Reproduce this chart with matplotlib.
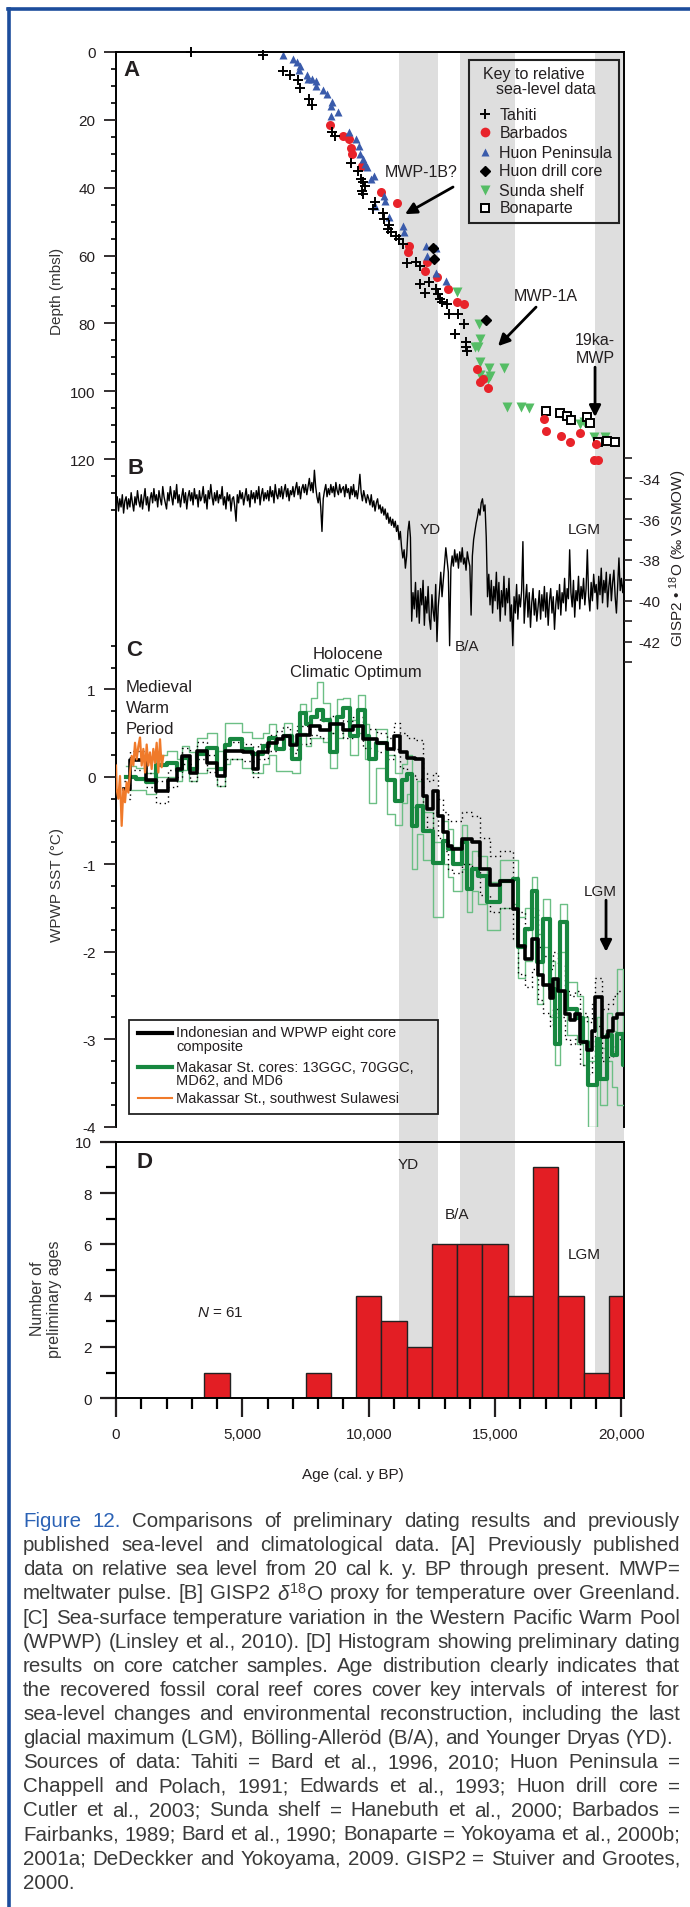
import numpy as np
import matplotlib
matplotlib.use('Agg')
import matplotlib.pyplot as plt
from matplotlib import font_manager
from matplotlib.lines import Line2D
from matplotlib.patches import Rectangle
from matplotlib.ticker import MultipleLocator, FuncFormatter

# ---------------- data ----------------
AGE_MAX = 20100
# shaded intervals (YD, B/A, LGM), cal. y BP
bands = [(11190, 12725), (13600, 15775), (18950, 20100)]

# [A] relative sea level, age (cal y BP) vs depth (mbsl)
tahiti_age = [2984, 5822, 6605, 6902, 7215, 7286, 7650, 7737, 8556, 8679, 9288, 9565, 9688, 9775, 9862,
              9724, 9775, 10261, 10175, 10558, 10594, 10784, 10768, 10871, 11080, 11203, 11341, 11515, 11863, 12037,
              12037, 12211, 12385, 12646, 12733, 12821, 12908, 13082, 13169, 13517, 13778, 13430, 13830, 13865, 13901]
tahiti_depth = [0.0, 0.9, 5.5, 6.8, 8.2, 10.7, 13.9, 15.6, 23.7, 24.7, 32.7, 35.0, 37.4, 38.2, 39.4,
                40.9, 41.9, 44.1, 46.3, 47.6, 49.2, 51.0, 52.2, 53.2, 54.2, 55.1, 56.6, 62.3, 62.0, 63.0,
                68.4, 70.9, 67.9, 69.9, 71.4, 72.8, 73.8, 74.3, 77.2, 77.2, 80.2, 83.1, 85.6, 87.1, 88.1]
barb_age = [8468, 8990, 9200, 9288, 9338, 9723, 10470, 11132, 11602, 11567, 12298, 12211, 12699, 13134,
            13482, 13778, 14300, 14388, 14527, 14736, 16948, 17016, 17609, 17957, 18341, 19002, 18915, 19054]
barb_depth = [21.5, 24.7, 25.7, 28.3, 30.1, 33.5, 41.4, 44.5, 57.1, 58.9, 62.0, 64.5, 66.4, 69.9,
              73.6, 74.3, 93.5, 97.4, 96.4, 98.9, 108.2, 111.6, 113.1, 115.1, 112.3, 115.6, 120.2, 120.4]
huon_age = [6605, 6989, 7163, 7286, 7251, 7547, 7600, 7737, 7911, 7911, 8172, 8330, 8556, 8504, 8765, 8504,
            9218, 9513, 9600, 9652, 9775, 9862, 9913, 10209, 10087, 10610, 10644, 10244, 10783, 11341, 11376,
            12263, 12681, 12298, 12646, 13047]
huon_depth = [0.9, 2.1, 3.0, 4.0, 5.3, 6.8, 8.0, 8.0, 8.5, 9.9, 11.1, 12.4, 14.6, 15.8, 17.8, 18.8,
              23.7, 25.5, 27.6, 30.1, 31.5, 33.0, 34.0, 36.5, 37.4, 42.4, 43.8, 45.3, 48.7, 51.2, 53.0,
              57.3, 57.8, 60.0, 65.2, 67.4]
drill_age = [12524, 12595, 14648]
drill_depth = [57.9, 61.0, 79.0]
sunda_age = [13482, 14352, 14388, 14213, 14336, 14422, 14771, 15345, 14388, 14787, 14736, 15467, 16006,
             16354, 18356, 18513, 18915, 19349]
sunda_depth = [70.7, 80.2, 84.6, 87.1, 87.1, 91.5, 93.0, 93.0, 95.2, 95.4, 96.4, 104.5, 104.5,
               104.8, 109.7, 109.2, 113.6, 113.6]
bon_age = [17033, 17556, 17834, 17991, 18617, 18774, 19088, 19436, 19732]
bon_depth = [105.9, 106.5, 107.4, 108.4, 107.5, 109.4, 114.9, 114.8, 114.9]

# [B] GISP2 d18O, one value per 50 yr from 0 to 20100 (rows of 500 yr)
gisp_step = 50
gisp_d18o = [
    -35.3, -34.9, -35.6, -35.0, -35.4, -34.8, -35.7, -35.1, -34.9, -35.5,
    -35.0, -35.4, -34.7, -35.2, -35.6, -34.9, -35.3, -34.6, -35.1, -35.4,
    -34.8, -35.5, -35.0, -34.5, -35.3, -34.9, -35.6, -35.0, -34.7, -35.2,
    -34.5, -35.1, -34.8, -35.4, -34.6, -35.0, -35.3, -34.4, -34.9, -35.2,
    -35.5, -34.7, -35.1, -34.4, -34.9, -35.3, -34.6, -35.0, -34.3, -35.2,
    -34.8, -35.4, -34.9, -34.5, -35.2, -34.7, -35.5, -34.9, -34.6, -35.1,
    -34.7, -35.3, -34.5, -35.0, -34.8, -35.4, -34.6, -35.1, -34.9, -34.4,
    -35.2, -34.8, -35.5, -34.6, -35.0, -34.3, -34.9, -35.3, -34.7, -35.1,
    -34.6, -35.2, -34.8, -35.0, -34.4, -35.3, -34.9, -35.5, -34.7, -35.1,
    -34.8, -35.6, -35.0, -34.9, -35.4, -36.1, -34.8, -35.2, -34.6, -35.0,
    -34.7, -35.3, -34.9, -34.5, -35.1, -34.8, -35.4, -34.6, -35.0, -34.7,
    -35.2, -34.6, -35.0, -34.4, -35.3, -34.8, -34.5, -35.1, -34.7, -35.0,
    -34.6, -35.1, -34.4, -34.9, -34.6, -35.2, -34.3, -34.8, -35.0, -34.5,
    -34.9, -34.4, -35.0, -34.6, -34.3, -34.9, -34.5, -35.1, -34.6, -34.8,
    -34.4, -34.9, -34.5, -34.2, -34.8, -34.4, -35.0, -34.5, -34.3, -34.7,
    -34.3, -34.8, -34.4, -34.0, -34.6, -34.2, -34.7, -33.6, -34.4, -34.9,
    -35.2, -34.7, -35.4, -36.6, -35.0, -34.6, -34.3, -34.9, -34.5, -34.8,
    -34.3, -34.7, -34.4, -34.9, -34.2, -34.6, -34.8, -34.3, -34.7, -34.5,
    -34.4, -34.9, -34.3, -34.7, -34.5, -35.0, -34.4, -34.8, -34.3, -34.9,
    -34.6, -35.0, -34.5, -33.8, -34.7, -35.1, -34.6, -34.9, -35.2, -34.8,
    -35.0, -35.3, -34.8, -35.4, -35.1, -35.6, -35.2, -35.0, -35.5, -35.3,
    -35.7, -35.4, -35.8, -35.5, -36.0, -35.7, -36.2, -35.9, -36.3, -36.0,
    -36.4, -36.1, -36.6, -36.3, -37.0, -36.6, -37.4, -37.9, -37.5, -38.4,
    -37.8, -36.6, -36.1, -36.9, -41.0, -39.6, -40.4, -39.1, -40.8, -39.5,
    -41.1, -39.4, -40.2, -39.0, -41.2, -39.8, -40.6, -39.3, -40.9, -41.4,
    -39.7, -40.5, -41.0, -39.2, -42.0, -40.3, -39.5, -38.6, -39.8, -39.0,
    -38.2, -37.4, -38.0, -38.6, -42.2, -38.4, -37.8, -38.3, -37.5, -38.1,
    -37.7, -38.4, -37.6, -38.1, -37.4, -38.2, -37.9, -38.5, -37.6, -38.0,
    -38.3, -40.7, -37.8, -37.0, -36.6, -36.2, -35.9, -35.5, -35.8, -35.2,
    -35.0, -35.6, -35.3, -36.9, -39.8, -38.7, -40.2, -39.0, -40.6, -39.3,
    -40.0, -38.6, -40.4, -39.1, -41.0, -39.5, -40.3, -38.8, -40.7, -39.4,
    -40.1, -38.9, -41.0, -40.2, -42.2, -39.8, -40.6, -39.2, -40.9, -39.7,
    -40.3, -39.5, -37.1, -41.1, -40.0, -39.2, -40.8, -39.6, -41.3, -40.1,
    -39.4, -40.7, -39.9, -41.0, -40.3, -39.5, -40.9, -39.7, -40.5, -39.3,
    -40.8, -39.6, -41.2, -40.0, -39.4, -40.6, -39.8, -41.4, -40.2, -39.5,
    -40.4, -39.2, -40.7, -39.6, -40.1, -38.9, -40.5, -39.4, -39.9, -37.5,
    -39.6, -40.3, -39.0, -40.8, -39.5, -40.0, -38.8, -40.4, -39.3, -39.9,
    -38.9, -40.2, -39.4, -37.5, -39.8, -40.5, -39.1, -40.0, -38.7, -39.6,
    -39.2, -40.4, -38.8, -39.7, -38.4, -40.1, -39.0, -39.6, -38.6, -40.3,
    -39.3, -38.7, -40.0, -39.1, -38.5, -39.8, -40.6, -39.2, -37.9, -39.5,
    -38.9, -39.6, -39.0]

# [C] WPWP SST anomaly (deg C)
# Makassar Strait cores: step ages, thick mean and thin envelope
mk_age = [400, 800, 1200, 1600, 2000, 2400, 2600, 2900, 3200, 3600,
          4000, 4300, 4500, 5000, 5400, 5800, 6050, 6350, 6650, 6950,
          7300, 7500, 7700, 7950, 8200, 8470, 8730, 9000, 9260, 9590,
          9850, 10000, 10300, 10710, 11040, 11300, 11500, 11700, 11900, 12160,
          12550, 12950, 13150, 13350, 13680, 13900, 14075, 14340, 14670, 15200,
          15720, 15920, 16185, 16450, 16650, 16910, 17170, 17370, 17570, 17830,
          18230, 18490, 18690, 19020, 19150, 19415, 19615, 19810, 20050, 20100]
mk_sst = [0.00, -0.02, -0.06, 0.14, 0.16, 0.08, 0.22, 0.09, 0.26, 0.33,
          0.09, 0.37, 0.43, 0.32, 0.26, 0.35, 0.45, 0.32, 0.47, 0.20,
          0.73, 0.60, 0.69, 0.77, 0.65, 0.28, 0.69, 0.79, 0.47, 0.77,
          0.47, 0.20, 0.39, -0.03, -0.28, -0.04, 0.03, -0.56, -0.33, -0.62,
          -0.98, -0.73, -0.82, -1.00, -0.75, -1.28, -1.05, -1.13, -1.43, -1.19,
          -1.17, -1.95, -1.74, -1.30, -2.12, -1.62, -2.42, -3.05, -1.66, -2.65,
          -2.76, -3.03, -3.52, -3.00, -3.45, -2.95, -3.18, -2.94, -3.30, -3.30]
mk_hi = [0.12, 0.10, 0.05, 0.25, 0.30, 0.20, 0.35, 0.28, 0.45, 0.50,
         0.30, 0.62, 0.62, 0.51, 0.45, 0.50, 0.60, 0.45, 0.62, 0.40,
         0.83, 0.75, 0.90, 1.08, 0.85, 0.50, 0.89, 0.90, 0.65, 0.94,
         0.60, 0.45, 0.55, 0.25, 0.05, 0.15, 0.25, -0.35, -0.05, -0.40,
         -0.75, -0.50, -0.60, -0.80, -0.55, -1.00, -0.85, -0.90, -1.20, -0.95,
         -0.95, -1.60, -1.50, -1.15, -1.80, -1.40, -2.10, -2.75, -1.45, -2.35,
         -2.50, -2.75, -3.25, -2.75, -3.10, -2.70, -2.90, -2.20, -3.00, -3.00]
mk_lo = [-0.15, -0.15, -0.20, 0.00, 0.00, -0.05, 0.08, -0.05, 0.05, 0.10,
         -0.10, 0.15, 0.20, 0.10, 0.05, 0.15, 0.25, 0.07, 0.07, 0.05,
         0.50, 0.35, 0.45, 0.45, 0.40, 0.10, 0.45, 0.55, 0.25, 0.50,
         0.20, -0.30, 0.10, -0.43, -0.55, -0.30, -0.20, -1.05, -0.65, -0.95,
         -1.60, -1.00, -1.15, -1.30, -1.05, -1.55, -1.30, -1.45, -1.75, -1.50,
         -1.45, -2.30, -2.10, -1.60, -2.60, -1.95, -2.75, -3.30, -2.00, -2.95,
         -3.05, -3.30, -4.00, -3.40, -3.75, -3.25, -3.55, -3.75, -3.75, -3.75]

# Indonesian / WPWP eight core composite, with dotted error envelope
cmp_age = [300, 550, 1200, 1600, 2070, 2400, 2600, 2930, 3190, 3590,
           3990, 4310, 5040, 5430, 5630, 6030, 6360, 6620, 6890, 7150,
           7680, 8070, 8470, 9000, 9390, 9790, 10310, 10710, 11000, 11240,
           11500, 11830, 12160, 12300, 12550, 12750, 12950, 13150, 13280, 13680,
           14075, 14400, 14800, 15200, 15720, 15920, 16185, 16450, 16710, 16910,
           17170, 17300, 17500, 17770, 17965, 18160, 18360, 18625, 18820, 18955,
           19220, 19480, 19680, 19810, 20100]
cmp_sst = [-0.14, 0.19, -0.03, -0.16, -0.03, 0.09, 0.24, 0.05, 0.30, 0.16,
           0.01, 0.30, 0.28, 0.09, 0.29, 0.39, 0.43, 0.47, 0.37, 0.48,
           0.58, 0.54, 0.60, 0.54, 0.58, 0.43, 0.39, 0.32, 0.47, 0.28,
           0.22, 0.20, -0.22, -0.37, -0.16, -0.45, -0.63, -0.79, -0.82, -0.71,
           -0.75, -1.05, -1.24, -1.19, -1.51, -1.93, -2.08, -1.85, -2.27, -2.38,
           -2.53, -2.31, -2.45, -2.71, -2.78, -2.71, -3.03, -3.12, -2.91, -2.52,
           -2.97, -2.91, -2.76, -2.71, -2.71]
cmp_hi = [-0.05, 0.30, 0.05, -0.05, 0.08, 0.18, 0.33, 0.15, 0.40, 0.25,
          0.10, 0.40, 0.38, 0.18, 0.38, 0.48, 0.53, 0.57, 0.47, 0.58,
          0.68, 0.64, 0.70, 0.64, 0.68, 0.55, 0.50, 0.45, 0.62, 0.50,
          0.45, 0.42, 0.05, -0.05, 0.05, -0.25, -0.40, -0.50, -0.50, -0.40,
          -0.45, -0.70, -0.90, -0.85, -1.15, -1.55, -1.75, -1.50, -1.95, -2.05,
          -2.20, -2.00, -2.15, -2.45, -2.50, -2.45, -2.70, -2.80, -2.60, -2.30,
          -2.65, -2.60, -2.50, -2.45, -2.45]
cmp_lo = [-0.25, 0.08, -0.12, -0.30, -0.12, 0.00, 0.15, -0.05, 0.20, 0.06,
          -0.10, 0.20, 0.18, 0.00, 0.20, 0.30, 0.33, 0.37, 0.27, 0.38,
          0.48, 0.44, 0.50, 0.44, 0.48, 0.33, 0.28, 0.20, 0.32, 0.10,
          0.02, -0.02, -0.45, -0.60, -0.40, -0.70, -0.85, -1.05, -1.10, -1.00,
          -1.05, -1.35, -1.55, -1.50, -1.85, -2.25, -2.40, -2.20, -2.55, -2.70,
          -2.85, -2.65, -2.75, -3.00, -3.05, -3.00, -3.30, -3.40, -3.20, -2.85,
          -3.25, -3.20, -3.05, -3.00, -3.00]

# Makassar St., southwest Sulawesi (last 2 kyr)
sul_age = [0, 26, 92, 158, 224, 290, 356, 422, 488, 554, 620, 686, 752, 818, 884,
           950, 1016, 1082, 1148, 1214, 1280, 1345, 1411, 1477, 1543, 1609, 1675, 1741, 1807, 1873]
sul_sst = [0.13, -0.14, -0.25, 0.01, -0.56, -0.14, -0.29, -0.06, -0.18, 0.05, 0.24, 0.13, 0.39, 0.20, 0.35,
           0.45, 0.13, 0.32, 0.05, 0.37, 0.13, 0.28, 0.09, 0.32, 0.16, 0.39, 0.05, 0.43, 0.11, 0.24]

# [D] histogram of preliminary ages (1000-yr bins)
hist_bins = [4000, 8000, 10000, 11000, 12000, 13000, 14000, 15000, 16000, 17000, 18000, 19000, 20000]
hist_counts = [1, 1, 4, 3, 2, 6, 6, 6, 4, 9, 4, 1, 4]

caption = [
    ("Figure 12. Comparisons of preliminary dating results and previously", True),
    ("published sea-level and climatological data. [A] Previously published", True),
    ("data on relative sea level from 20 cal k. y. BP through present. MWP=", True),
    ("meltwater pulse. [B] GISP2 $\\delta^{18}$O proxy for temperature over Greenland.", True),
    ("[C] Sea-surface temperature variation in the Western Pacific Warm Pool", True),
    ("(WPWP) (Linsley et al., 2010). [D] Histogram showing preliminary dating", True),
    ("results on core catcher samples. Age distribution clearly indicates that", True),
    ("the recovered fossil coral reef cores cover key intervals of interest for", True),
    ("sea-level changes and environmental reconstruction, including the last", True),
    ("glacial maximum (LGM), Bölling-Alleröd (B/A), and Younger Dryas (YD).", False),
    ("Sources of data: Tahiti = Bard et al., 1996, 2010; Huon Peninsula =", True),
    ("Chappell and Polach, 1991; Edwards et al., 1993; Huon drill core =", True),
    ("Cutler et al., 2003; Sunda shelf = Hanebuth et al., 2000; Barbados =", True),
    ("Fairbanks, 1989; Bard et al., 1990; Bonaparte = Yokoyama et al., 2000b;", True),
    ("2001a; DeDeckker and Yokoyama, 2009. GISP2 = Stuiver and Grootes,", True),
    ("2000.", False),
]

# ---------------- style ----------------
names = {f.name for f in font_manager.fontManager.ttflist}
main_font = 'Liberation Sans' if 'Liberation Sans' in names else 'DejaVu Sans'
plt.rcParams['font.family'] = [main_font, 'DejaVu Sans']
plt.rcParams['mathtext.fontset'] = 'custom'
plt.rcParams['mathtext.rm'] = main_font
plt.rcParams['mathtext.it'] = main_font + ':italic'
plt.rcParams['mathtext.bf'] = main_font + ':bold'
plt.rcParams['axes.unicode_minus'] = False

TXT = '#231f20'
BAND = '#dedede'
GREEN = '#17873f'
LGREEN = '#6cbf85'
ORANGE = '#f07a2a'
RED = '#e8232a'

W, H = 690, 1908
def fx(px): return px / W
def fy(py): return 1 - py / H
def box(x0, y0, x1, y1): return [fx(x0), fy(y1), (x1 - x0) / W, (y1 - y0) / H]

def ftext(x, y, s, **kw):
    kw.setdefault('color', TXT)
    kw.setdefault('ha', 'center')
    kw.setdefault('va', 'center')
    return fig.text(fx(x), fy(y), s, **kw)

def bare(ax):
    ax.set_facecolor('none')
    for sp in ax.spines.values():
        sp.set_visible(False)
    ax.set_xlim(0, AGE_MAX)
    ax.set_xticks([])

fig = plt.figure(figsize=(6.9, 19.08), dpi=100)

# blue frame of the figure box
fig.add_artist(Line2D([fx(9.3), fx(9.3)], [fy(9.5), 0], transform=fig.transFigure, color='#1c4d9c', lw=2.6))
fig.add_artist(Line2D([fx(8), 1], [fy(9.5), fy(9.5)], transform=fig.transFigure, color='#1c4d9c', lw=2.6))

# shaded bands through all panels
axBG = fig.add_axes(box(116, 53, 624, 1399))
axBG.axis('off')
axBG.set_xlim(0, AGE_MAX)
for a0, a1 in bands:
    axBG.axvspan(a0, a1, color=BAND, lw=0)

# common frame for A-C
axF = fig.add_axes(box(116, 53, 624, 1128))
axF.set_facecolor('none')
axF.set_xticks([]); axF.set_yticks([])
axF.spines['top'].set_visible(False)
axF.spines['bottom'].set_visible(False)
for s in ['left', 'right']:
    axF.spines[s].set_linewidth(1.4)

# ---- A ----
axA = fig.add_axes(box(116, 53, 624, 511))
bare(axA)
axA.spines['top'].set_visible(True)
axA.spines['top'].set_linewidth(1.4)
axA.set_ylim(135, 0)
axA.yaxis.set_minor_locator(MultipleLocator(5))
axA.set_yticks([0, 20, 40, 60, 80, 100, 120])
axA.tick_params(axis='y', which='major', direction='out', length=8.6, width=1.3, labelsize=11, pad=6, colors=TXT)
axA.tick_params(axis='y', which='minor', direction='out', length=3.6, width=1.2)

axA.plot(sunda_age, sunda_depth, 'v', color='#55bd65', ms=6.5, mec='none', clip_on=False)
axA.plot(bon_age, bon_depth, 's', mfc='white', mec='k', ms=6, mew=1.4, clip_on=False)
axA.plot(barb_age, barb_depth, 'o', color=RED, ms=6.5, mec='none', clip_on=False)
axA.plot(huon_age, huon_depth, '^', color='#3a5bab', ms=6.3, mec='none', clip_on=False)
axA.plot(drill_age, drill_depth, 'D', color='k', ms=5, clip_on=False)
axA.plot(tahiti_age, tahiti_depth, '+', color='k', ms=7.5, mew=1.4, clip_on=False)

arrow = dict(arrowstyle='-|>', color='k', lw=2, mutation_scale=17, shrinkA=0, shrinkB=0)
axA.annotate('', xy=(11436, 47.8), xytext=(13335, 39.8), arrowprops=arrow)
axA.annotate('', xy=(15116, 86.7), xytext=(16620, 75.2), arrowprops=arrow)
axA.annotate('', xy=(18954, 107.6), xytext=(18954, 92.9), arrowprops=arrow)
axA.text(12089, 35.3, 'MWP-1B?', fontsize=11.5, ha='center', va='center', color=TXT)
axA.text(16999, 71.8, 'MWP-1A', fontsize=11.5, ha='center', va='center', color=TXT)
axA.text(18954, 87.3, '19ka-\nMWP', fontsize=11.5, ha='center', va='center', color=TXT, linespacing=1.25)

# key for A
fig.add_artist(Rectangle((fx(468.6), fy(224)), (619 - 468.6) / W, (224 - 61) / H,
                         transform=fig.transFigure, fill=False, lw=1.5, ec='#222222'))
ftext(482.7, 74, 'Key to relative', fontsize=11.5, ha='left')
ftext(496, 89, 'sea-level data', fontsize=11.5, ha='left')
key_items = [
    ('Tahiti', dict(marker='+', color='k', ms=7.5, mew=1.4)),
    ('Barbados', dict(marker='o', color=RED, ms=7, mec='none')),
    ('Huon Peninsula', dict(marker='^', color='#3a5bab', ms=5.5, mec='none')),
    ('Huon drill core', dict(marker='D', color='k', ms=5)),
    ('Sunda shelf', dict(marker='v', color='#55bd65', ms=6.5, mec='none')),
    ('Bonaparte', dict(marker='s', mfc='white', mec='k', ms=6, mew=1.4)),
]
for (lab, mk), yk in zip(key_items, [115, 133, 153, 172, 191, 209]):
    fig.add_artist(Line2D([fx(485)], [fy(yk)], transform=fig.transFigure, ls='none', **mk))
    ftext(499.4, yk, lab, fontsize=11.5, ha='left')

# ---- B ----
axB = fig.add_axes(box(116, 459, 624, 663))
bare(axB)
axB.set_ylim(-43, -33)
gisp_age = np.arange(len(gisp_d18o)) * gisp_step
axB.plot(gisp_age, gisp_d18o, color='k', lw=1.0)
axB.yaxis.tick_right()
axB.yaxis.set_major_locator(MultipleLocator(2))
axB.yaxis.set_minor_locator(MultipleLocator(1))
axB.tick_params(axis='y', which='both', direction='out', length=6, width=1.2, labelsize=11, pad=4, colors=TXT)
ftext(678, 558, 'GISP2 • $^{18}$O (‰ VSMOW)', fontsize=11, rotation=90)
ftext(430, 530, 'YD', fontsize=11)
ftext(466.7, 646.7, 'B/A', fontsize=11)
ftext(584, 530, 'LGM', fontsize=11)

# ---- C ----
axC = fig.add_axes(box(116, 646.7, 624, 1127.7))
bare(axC)
axC.set_ylim(-4, 1.5)
axC.set_yticks([-4, -3, -2, -1, 0, 1])
axC.yaxis.set_minor_locator(MultipleLocator(0.25))
axC.tick_params(axis='y', which='major', direction='out', length=8.6, width=1.3, labelsize=11, pad=6, colors=TXT)
axC.tick_params(axis='y', which='minor', direction='out', length=3.6, width=1.2)

axC.step(mk_age, mk_hi, where='post', color=LGREEN, lw=1.0)
axC.step(mk_age, mk_lo, where='post', color=LGREEN, lw=1.0)
axC.step(cmp_age, cmp_hi, where='post', color='k', lw=1.0, ls=(0, (1, 2.5)))
axC.step(cmp_age, cmp_lo, where='post', color='k', lw=1.0, ls=(0, (1, 2.5)))
axC.step(mk_age, mk_sst, where='post', color=GREEN, lw=3)
axC.step(cmp_age, cmp_sst, where='post', color='k', lw=2.6)
axC.plot(sul_age, sul_sst, color=ORANGE, lw=1.6)

axC.annotate('', xy=(19389, -2.0), xytext=(19389, -1.41), arrowprops=arrow)
ftext(600.6, 891.7, 'LGM', fontsize=11)
ftext(126, 687.3, 'Medieval', fontsize=12, ha='left')
ftext(126, 708.3, 'Warm', fontsize=12, ha='left')
ftext(126, 729.3, 'Period', fontsize=12, ha='left')
ftext(347.6, 654.3, 'Holocene', fontsize=12)
ftext(355.5, 672.3, 'Climatic Optimum', fontsize=12)

# key for C
fig.add_artist(Rectangle((fx(129), fy(1115)), (437.8 - 129) / W, (1115 - 1020.7) / H,
                         transform=fig.transFigure, fill=False, lw=1.3, ec='#222222'))
for yk, col, lw in [(1034.3, 'k', 3), (1067.7, GREEN, 3), (1099, ORANGE, 1.5)]:
    fig.add_artist(Line2D([fx(137.7), fx(171.6)], [fy(yk), fy(yk)], transform=fig.transFigure, color=col, lw=lw))
for yk, lab in [(1033, 'Indonesian and WPWP eight core'), (1046.7, 'composite'),
                (1068, 'Makasar St. cores: 13GGC, 70GGC,'), (1080.7, 'MD62, and MD6'),
                (1099, 'Makassar St., southwest Sulawesi')]:
    ftext(176, yk, lab, fontsize=10.5, ha='left')

# panel letters and left labels
for lab, x, y in [('A', 132, 70.7), ('B', 136, 468.3), ('C', 134, 650.7), ('D', 145, 1162)]:
    ftext(x, y, lab, fontsize=16, fontweight='bold')
ftext(57, 291.7, 'Depth (mbsl)', fontsize=11, rotation=90, color='#333333')
ftext(57, 885, 'WPWP SST (°C)', fontsize=11, rotation=90, color='#333333')

# ---- D ----
axD = fig.add_axes(box(116, 1142.7, 624, 1399.3))
axD.set_facecolor('none')
axD.bar(hist_bins, hist_counts, width=1000, color='#e31e24', edgecolor='#222222', lw=1, zorder=2)
axD.set_xlim(0, AGE_MAX)
axD.set_ylim(0, 10)
for sp in axD.spines.values():
    sp.set_linewidth(1.4)
axD.xaxis.set_major_locator(MultipleLocator(5000))
axD.xaxis.set_minor_locator(MultipleLocator(1000))
axD.xaxis.set_major_formatter(FuncFormatter(lambda v, p: f'{int(v):,}'))
axD.yaxis.set_major_locator(MultipleLocator(2))
axD.yaxis.set_minor_locator(MultipleLocator(1))
axD.tick_params(axis='x', which='major', direction='out', length=13.5, width=1.6, labelsize=11, pad=7, colors=TXT)
axD.tick_params(axis='x', which='minor', direction='out', length=8, width=1.6)
axD.tick_params(axis='y', which='major', direction='out', length=11.5, width=1.6, labelsize=11, pad=6, colors=TXT)
axD.tick_params(axis='y', which='minor', direction='out', length=7, width=1.6)
ftext(408.3, 1165, 'YD', fontsize=11)
ftext(456.7, 1215, 'B/A', fontsize=11)
ftext(584.3, 1255, 'LGM', fontsize=11)
ftext(220, 1313, '$N$ = 61', fontsize=11)
ftext(46, 1299, 'Number of\npreliminary ages', fontsize=11.5, rotation=90, color='#333333', linespacing=1.1)
ftext(353, 1475, 'Age (cal. y BP)', fontsize=11)

# ---- caption, justified between x=23 and x=680 ----
renderer = fig.canvas.get_renderer()
left, right = 23, 680
cap_size = 14.8
space = 0.278 * cap_size * 100 / 72
for i, (line, justify) in enumerate(caption):
    yc = 1521.7 + i * 24.1
    words = line.split(' ')
    arts = []
    for j, w in enumerate(words):
        col = '#2b62b5' if (i == 0 and j < 2) else '#3a3a3a'
        arts.append(fig.text(0, fy(yc), w, fontsize=cap_size, color=col, va='center', ha='left'))
    widths = [a.get_window_extent(renderer).width for a in arts]
    if justify and len(words) > 1:
        gap = max((right - left - sum(widths)) / (len(words) - 1), 0.7 * space)
    else:
        gap = space
    x = left
    for a, wd in zip(arts, widths):
        a.set_x(fx(x))
        x += wd + gap

fig.savefig('out.png', dpi=100)
